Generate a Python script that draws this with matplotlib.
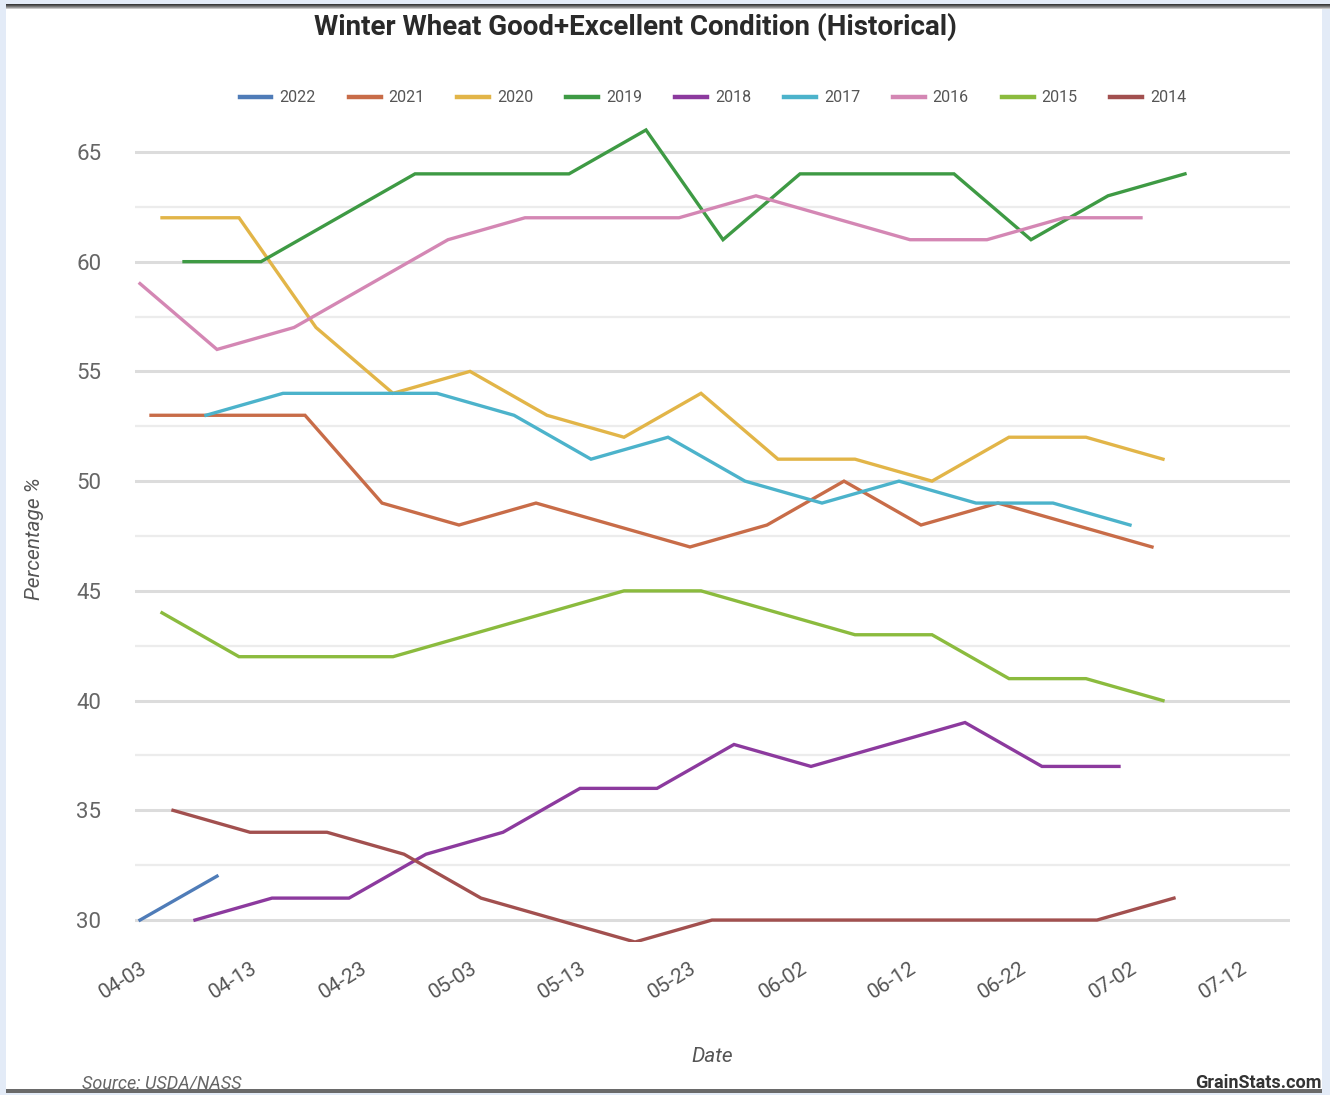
import matplotlib
matplotlib.use("Agg")
import matplotlib.pyplot as plt
from matplotlib.patches import Rectangle
import pandas as pd

# weekly good+excellent ratings, by month-day of each season
years = ["2022", "2021", "2020", "2019", "2018", "2017", "2016", "2015", "2014"]

dates_2022 = ["04-03", "04-10"]
vals_2022 = [30, 32]

dates_2021 = ["04-04", "04-11", "04-18", "04-25", "05-02", "05-09", "05-16",
              "05-23", "05-30", "06-06", "06-13", "06-20", "06-27", "07-04"]
vals_2021 = [53, 53, 53, 49, 48, 49, 48, 47, 48, 50, 48, 49, 48, 47]

dates_2020 = ["04-05", "04-12", "04-19", "04-26", "05-03", "05-10", "05-17",
              "05-24", "05-31", "06-07", "06-14", "06-21", "06-28", "07-05"]
vals_2020 = [62, 62, 57, 54, 55, 53, 52, 54, 51, 51, 50, 52, 52, 51]

dates_2019 = ["04-07", "04-14", "04-21", "04-28", "05-05", "05-12", "05-19",
              "05-26", "06-02", "06-09", "06-16", "06-23", "06-30", "07-07"]
vals_2019 = [60, 60, 62, 64, 64, 64, 66, 61, 64, 64, 64, 61, 63, 64]

dates_2018 = ["04-08", "04-15", "04-22", "04-29", "05-06", "05-13", "05-20",
              "05-27", "06-03", "06-10", "06-17", "06-24", "07-01"]
vals_2018 = [30, 31, 31, 33, 34, 36, 36, 38, 37, 38, 39, 37, 37]

dates_2017 = ["04-09", "04-16", "04-23", "04-30", "05-07", "05-14", "05-21",
              "05-28", "06-04", "06-11", "06-18", "06-25", "07-02"]
vals_2017 = [53, 54, 54, 54, 53, 51, 52, 50, 49, 50, 49, 49, 48]

dates_2016 = ["04-03", "04-10", "04-17", "04-24", "05-01", "05-08", "05-15",
              "05-22", "05-29", "06-05", "06-12", "06-19", "06-26", "07-03"]
vals_2016 = [59, 56, 57, 59, 61, 62, 62, 62, 63, 62, 61, 61, 62, 62]

dates_2015 = ["04-05", "04-12", "04-19", "04-26", "05-03", "05-10", "05-17",
              "05-24", "05-31", "06-07", "06-14", "06-21", "06-28", "07-05"]
vals_2015 = [44, 42, 42, 42, 43, 44, 45, 45, 44, 43, 43, 41, 41, 40]

dates_2014 = ["04-06", "04-13", "04-20", "04-27", "05-04", "05-11", "05-18",
              "05-25", "06-01", "06-08", "06-15", "06-22", "06-29", "07-06"]
vals_2014 = [35, 34, 34, 33, 31, 30, 29, 30, 30, 30, 30, 30, 30, 31]

series = {
    "2022": (dates_2022, vals_2022),
    "2021": (dates_2021, vals_2021),
    "2020": (dates_2020, vals_2020),
    "2019": (dates_2019, vals_2019),
    "2018": (dates_2018, vals_2018),
    "2017": (dates_2017, vals_2017),
    "2016": (dates_2016, vals_2016),
    "2015": (dates_2015, vals_2015),
    "2014": (dates_2014, vals_2014),
}

colors = {
    "2022": "#4f7cb8",
    "2021": "#c86c48",
    "2020": "#e2b548",
    "2019": "#3e9a44",
    "2018": "#8c3a9e",
    "2017": "#4cb3cb",
    "2016": "#d487b4",
    "2015": "#8bbb3e",
    "2014": "#a2504f",
}

tick_days = pd.date_range("2022-04-03", periods=11, freq="10D")


def to_day(md):
    # all seasons share one calendar year so the weeks line up by month-day
    return pd.Timestamp("2022-" + md)


W, H = 1330, 1095
fig = plt.figure(figsize=(W / 100, H / 100), dpi=100)
fig.patch.set_facecolor("#e3ebf7")

# white page with a dark rule on top and bottom
fig.patches.append(Rectangle((6 / W, 1 - 1089 / H), (1322 - 6) / W, (1089 - 6) / H,
                             transform=fig.transFigure, facecolor="white",
                             edgecolor="none", zorder=0))
for i, c in enumerate(["#3a3a3a", "#555555", "#777777", "#9a9a9a", "#c8c8c8"]):
    fig.patches.append(Rectangle((6 / W, 1 - (5 + i) / H), 1, 1 / H,
                                 transform=fig.transFigure, facecolor=c,
                                 edgecolor="none", zorder=1))
fig.patches.append(Rectangle((6 / W, 1 - 1093 / H), (1322 - 6) / W, 4 / H,
                             transform=fig.transFigure, facecolor="#6a6a6a",
                             edgecolor="none", zorder=1))

ax = fig.add_axes([134.5 / W, 1 - 942 / H, (1289.5 - 134.5) / W, (942 - 119) / H])
ax.set_zorder(2)
ax.set_facecolor("none")

for yr in years:
    d, v = series[yr]
    ax.plot([to_day(m) for m in d], v, color=colors[yr], lw=2.4,
            solid_joinstyle="miter", label=yr, zorder=3)

x0 = pd.Timestamp("2022-04-03")
ax.set_xlim(x0 - pd.Timedelta(hours=12), x0 + pd.Timedelta(days=104, hours=12))
ax.set_ylim(29, 66.5)

# gridlines: solid every 5, lighter every 2.5
for g in [30, 35, 40, 45, 50, 55, 60, 65]:
    ax.axhline(g, color="#dcdcdc", lw=2.2, zorder=1)
for g in [32.5, 37.5, 42.5, 47.5, 52.5, 57.5, 62.5]:
    ax.axhline(g, color="#ececec", lw=1.6, zorder=1)

ax.set_yticks([30, 35, 40, 45, 50, 55, 60, 65])
ax.set_yticklabels(["30", "35", "40", "45", "50", "55", "60", "65"],
                   fontsize=16, color="#666666", family="Roboto")
ax.set_xticks(tick_days)
ax.set_xticklabels([t.strftime("%m-%d") for t in tick_days], fontsize=15,
                   color="#555555", family="Roboto", rotation=32, ha="right",
                   rotation_mode="anchor")
ax.tick_params(axis="y", length=0, pad=24)
ax.tick_params(axis="x", length=0, pad=12)
for s in ax.spines.values():
    s.set_visible(False)

ax.set_ylabel("Percentage %", fontsize=15, color="#555555", style="italic",
              family="Roboto")
ax.yaxis.set_label_coords(-0.078, 0.49)
ax.set_xlabel("Date", fontsize=15, color="#555555", style="italic", family="Roboto")
ax.xaxis.set_label_coords(0.5, -0.128)

fig.text(635 / W, 1 - 27 / H, "Winter Wheat Good+Excellent Condition (Historical)",
         ha="center", va="center", fontsize=20, fontweight="bold",
         color="#2a2a2a", family="Roboto")

leg = fig.legend(loc="center", bbox_to_anchor=(713 / W, 1 - 98 / H), ncol=9,
                 frameon=False, handlelength=2.0, handletextpad=0.5,
                 columnspacing=2.05, prop={"family": "Roboto", "size": 11.5},
                 labelcolor="#555555")
for h in leg.get_lines():
    h.set_linewidth(3.2)

fig.text(82 / W, 1 - 1083 / H, "Source: USDA/NASS", ha="left", va="center",
         fontsize=13, style="italic", color="#666666", family="Roboto")
fig.text(1322 / W, 1 - 1083 / H, "GrainStats.com", ha="right", va="center",
         fontsize=13, fontweight="bold", color="#333333", family="Roboto")

fig.savefig("out.png", dpi=100, facecolor=fig.get_facecolor())
